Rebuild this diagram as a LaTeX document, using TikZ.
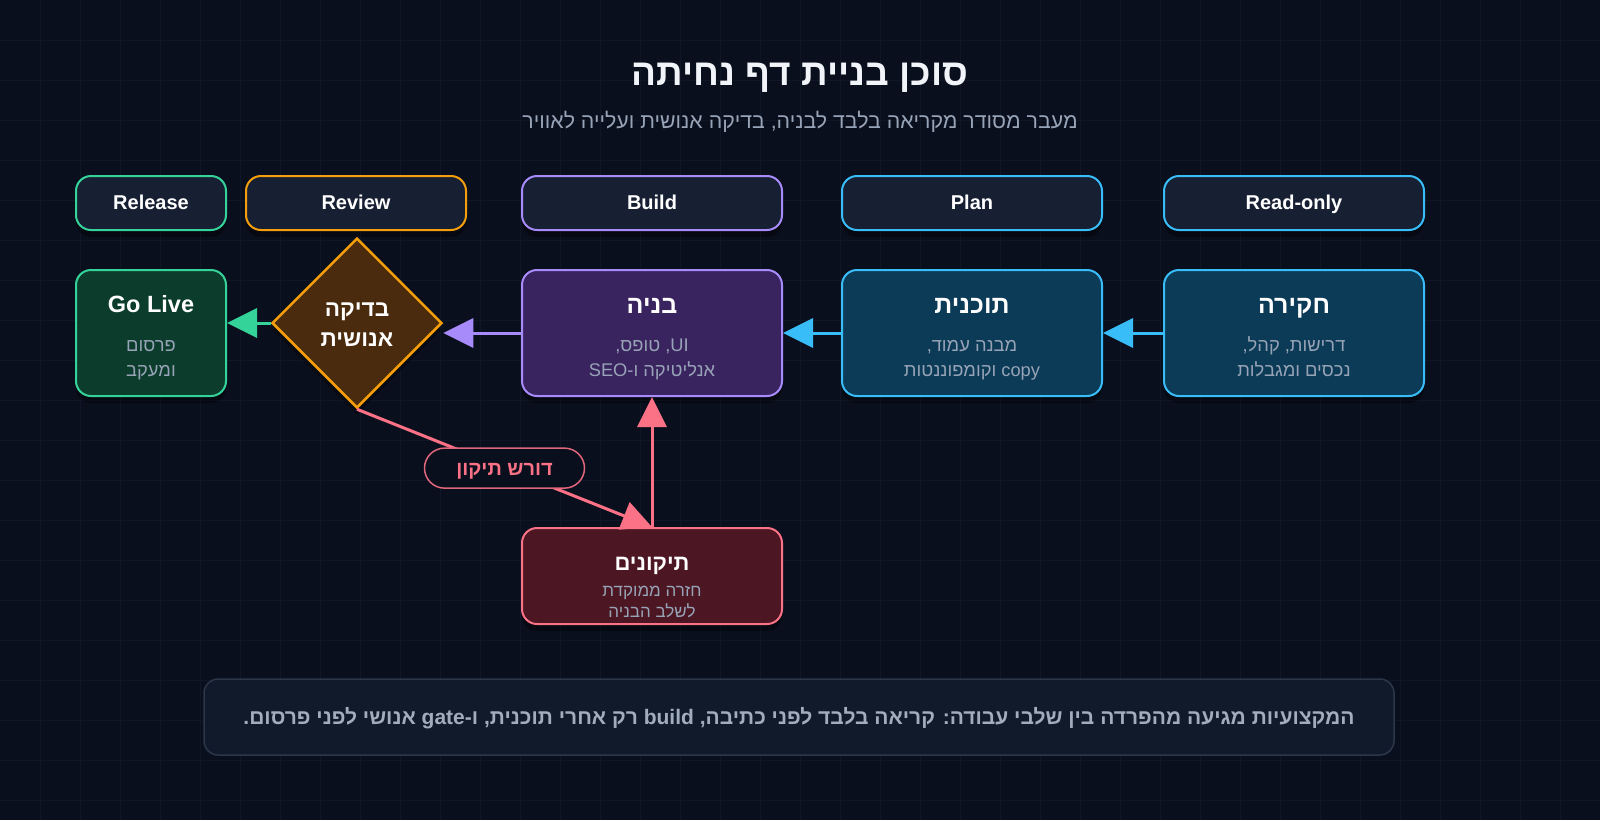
\documentclass[tikz,border=0pt]{standalone}
\usepackage{fontspec}
\setmainfont{Liberation Sans}
\newfontfamily\heb[Script=Hebrew]{Liberation Sans}
\TeXXeTstate=1
\usetikzlibrary{arrows.meta,shapes.geometric,calc,shadows}
\definecolor{bgc}{HTML}{0A0F1D}
\definecolor{gridc}{HTML}{0F1625}
\definecolor{lblfill}{HTML}{172033}
\definecolor{cyanc}{HTML}{38BDF8}
\definecolor{cyanf}{HTML}{0C3B57}
\definecolor{purc}{HTML}{A78BFA}
\definecolor{purf}{HTML}{3A2460}
\definecolor{orac}{HTML}{F59E0B}
\definecolor{oraf}{HTML}{4A2B0D}
\definecolor{grnc}{HTML}{34D399}
\definecolor{grnf}{HTML}{0C3D2C}
\definecolor{pinkc}{HTML}{FB7185}
\definecolor{pinkf}{HTML}{4C1622}
\definecolor{pillb}{HTML}{E0667C}
\definecolor{footf}{HTML}{111A2B}
\definecolor{footb}{HTML}{2B3649}
\definecolor{subgray}{HTML}{97A3B6}
\definecolor{titlec}{HTML}{F1F5F9}
\newcommand\lat[1]{\beginL{\rmfamily #1}\endL}
\newcommand\hebr[1]{{\heb\beginR #1\endR}}
\tikzset{
  shad/.style={drop shadow={shadow xshift=0pt, shadow yshift=-7pt, opacity=0.35, fill=black}},
  lbl/.style={draw, line width=2pt, rounded corners=15pt, fill=lblfill, minimum height=54pt, shad},
  lbltext/.style={text=white, font=\bfseries\fontsize{20}{23}\selectfont, anchor=base, inner sep=0pt},
  stagebox/.style={draw, line width=2pt, rounded corners=15pt, minimum height=126pt, minimum width=260pt, shad},
  ttl/.style={text=white, font=\heb\bfseries\fontsize{25}{28}\selectfont, inner sep=0pt, anchor=base},
  subt/.style={text=subgray, font=\heb\fontsize{18.3}{21}\selectfont, inner sep=0pt, anchor=base},
  arr/.style={line width=3pt, -{Triangle[length=30pt,width=29pt]}},
}
\begin{document}
\begin{tikzpicture}[x=1pt,y=-1pt]
\fill[bgc] (0,0) rectangle (1600,820);
\useasboundingbox (0,0) rectangle (1600,820);
\foreach \i in {40,80,...,1560} \draw[gridc, line width=1pt] (\i,0) -- (\i,820);
\foreach \j in {40,80,...,800} \draw[gridc, line width=1pt] (0,\j) -- (1600,\j);

% title
\node[text=titlec, font=\heb\bfseries\fontsize{37}{42}\selectfont, anchor=base, inner sep=0pt] (title) at (800,85) {\hebr{סוכן בניית דף נחיתה}};
\node[text=subgray, font=\heb\fontsize{21.3}{25}\selectfont, anchor=base, inner sep=0pt] (subtitle) at (800,128.3) {\hebr{מעבר מסודר מקריאה בלבד לבניה, בדיקה אנושית ועלייה לאוויר}};

% lane labels
\node[lbl, draw=grnc, minimum width=150pt] (lrelease) at (151,203) {};
\node[lbl, draw=orac, minimum width=220pt] (lreview) at (356,203) {};
\node[lbl, draw=purc, minimum width=260pt] (lbuild) at (652,203) {};
\node[lbl, draw=cyanc, minimum width=260pt] (lplan) at (972,203) {};
\node[lbl, draw=cyanc, minimum width=260pt] (lread) at (1294,203) {};
\node[lbltext] (lrelease-t) at (151,209.5) {Release};
\node[lbltext] (lreview-t) at (356,209.5) {Review};
\node[lbltext] (lbuild-t) at (652,209.5) {Build};
\node[lbltext] (lplan-t) at (972,209.5) {Plan};
\node[lbltext] (lread-t) at (1294,209.5) {Read-only};

% stage boxes
\node[stagebox, draw=cyanc, fill=cyanf] (research) at (1294,333) {};
\node[stagebox, draw=cyanc, fill=cyanf] (plan) at (972,333) {};
\node[stagebox, draw=purc, fill=purf] (build) at (652,333) {};
\node[stagebox, draw=grnc, fill=grnf, minimum width=150pt] (golive) at (151,333) {};
\node[draw=orac, fill=oraf, line width=2.5pt, diamond, minimum width=170pt, minimum height=170pt, inner sep=0pt, shad] (review) at (357,323) {};
\node[stagebox, draw=pinkc, fill=pinkf, minimum height=96pt] (fix) at (652,576) {};

% texts
\node[ttl] (research-t) at (1294,313.3) {\hebr{חקירה}};
\node[subt] (research-s1) at (1294,351.8) {\hebr{דרישות, קהל,}};
\node[subt] (research-s2) at (1294,376.2) {\hebr{נכסים ומגבלות}};

\node[ttl] (plan-t) at (972,313.3) {\hebr{תוכנית}};
\node[subt] (plan-s1) at (972,351.8) {\hebr{מבנה עמוד,}};
\node[subt] (plan-s2) at (972,376.2) {\hebr{\lat{copy} וקומפוננטות}};

\node[ttl] (build-t) at (652,313.3) {\hebr{בניה}};
\node[subt] (build-s1) at (652,351.8) {\hebr{\lat{UI}, טופס,}};
\node[subt] (build-s2) at (652,376.2) {\hebr{אנליטיקה ו-\lat{SEO}}};

\node[ttl, font=\bfseries\fontsize{23.5}{27}\selectfont] (golive-t) at (151,312.5) {Go Live};
\node[subt] (golive-s1) at (151,351.8) {\hebr{פרסום}};
\node[subt] (golive-s2) at (151,376.2) {\hebr{ומעקב}};

\node[ttl, font=\heb\bfseries\fontsize{22.6}{26}\selectfont] (review-t1) at (357,316.4) {\hebr{בדיקה}};
\node[ttl, font=\heb\bfseries\fontsize{22.6}{26}\selectfont] (review-t2) at (357,346.2) {\hebr{אנושית}};

\node[ttl, font=\heb\bfseries\fontsize{22}{25}\selectfont] (fix-t) at (652,570.3) {\hebr{תיקונים}};
\node[subt, font=\heb\fontsize{17}{20}\selectfont] (fix-s1) at (652,596.1) {\hebr{חזרה ממוקדת}};
\node[subt, font=\heb\fontsize{17}{20}\selectfont] (fix-s2) at (652,617.5) {\hebr{לשלב הבניה}};

% connectors
\coordinate (reviewin) at (review.east |- build.west);
\coordinate (goin) at (review.west -| golive.east);
\draw[arr, cyanc] (research.west) -- (plan.east);
\draw[arr, cyanc] (plan.west) -- (build.east);
\draw[arr, purc] (build.west) -- (reviewin);
\draw[arr, grnc] (review.west) -- (goin);
\draw[arr, pinkc] (fix.north) -- (build.south);
\draw[arr, pinkc] (review.south) -- (fix.north)
  node[pos=0.5, draw=pillb, line width=1.5pt, fill=bgc, rounded corners=20pt, minimum width=160pt, minimum height=40pt, text=pinkc, font=\heb\bfseries\fontsize{20}{23}\selectfont, text height=14.6pt, text depth=0pt] (pill) {\hebr{דורש תיקון}};

% footer
\node[draw=footb, fill=footf, line width=1.5pt, rounded corners=14pt, minimum width=1190pt, minimum height=76pt, text=subgray!90!white, font=\heb\bfseries\fontsize{21}{24}\selectfont, text height=15.4pt, text depth=0pt] (footer) at (799,717) {\hebr{המקצועיות מגיעה מהפרדה בין שלבי עבודה: קריאה בלבד לפני כתיבה, \lat{build} רק אחרי תוכנית, ו-\lat{gate} אנושי לפני פרסום.}};
\end{tikzpicture}
\end{document}
